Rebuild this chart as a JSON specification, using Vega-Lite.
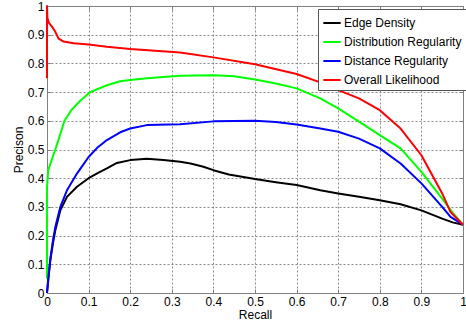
{
  "$schema": "https://vega.github.io/schema/vega-lite/v6.json",
  "width": 416,
  "height": 287,
  "autosize": {"type": "none"},
  "padding": {"left": 47, "top": 6, "right": 3, "bottom": 30},
  "background": "white",
  "config": {
    "view": {"stroke": "#808080", "strokeWidth": 1},
    "font": "Liberation Sans",
    "axis": {
      "labelFont": "Liberation Sans",
      "labelFontSize": 12,
      "labelColor": "#000000",
      "titleFont": "Liberation Sans",
      "titleFontSize": 12,
      "titleFontWeight": "normal",
      "titleColor": "#000000",
      "domainColor": "#808080",
      "tickColor": "#808080",
      "gridColor": "#808080",
      "gridDash": [2, 2],
      "gridOpacity": 0.9
    }
  },
  "datasets": {
    "pr": [
      {"s": "Edge Density", "i": 0, "r": 0, "p": 0},
      {"s": "Edge Density", "i": 1, "r": 0.004, "p": 0.06},
      {"s": "Edge Density", "i": 2, "r": 0.008, "p": 0.114},
      {"s": "Edge Density", "i": 3, "r": 0.014, "p": 0.17},
      {"s": "Edge Density", "i": 4, "r": 0.02, "p": 0.219},
      {"s": "Edge Density", "i": 5, "r": 0.032, "p": 0.288},
      {"s": "Edge Density", "i": 6, "r": 0.048, "p": 0.335},
      {"s": "Edge Density", "i": 7, "r": 0.072, "p": 0.37},
      {"s": "Edge Density", "i": 8, "r": 0.1, "p": 0.4},
      {"s": "Edge Density", "i": 9, "r": 0.125, "p": 0.42},
      {"s": "Edge Density", "i": 10, "r": 0.144, "p": 0.434},
      {"s": "Edge Density", "i": 11, "r": 0.168, "p": 0.453},
      {"s": "Edge Density", "i": 12, "r": 0.2, "p": 0.463},
      {"s": "Edge Density", "i": 13, "r": 0.24, "p": 0.468},
      {"s": "Edge Density", "i": 14, "r": 0.28, "p": 0.463},
      {"s": "Edge Density", "i": 15, "r": 0.32, "p": 0.457},
      {"s": "Edge Density", "i": 16, "r": 0.345, "p": 0.451},
      {"s": "Edge Density", "i": 17, "r": 0.376, "p": 0.44},
      {"s": "Edge Density", "i": 18, "r": 0.4, "p": 0.428},
      {"s": "Edge Density", "i": 19, "r": 0.437, "p": 0.413},
      {"s": "Edge Density", "i": 20, "r": 0.5, "p": 0.397},
      {"s": "Edge Density", "i": 21, "r": 0.55, "p": 0.386},
      {"s": "Edge Density", "i": 22, "r": 0.6, "p": 0.376},
      {"s": "Edge Density", "i": 23, "r": 0.657, "p": 0.358},
      {"s": "Edge Density", "i": 24, "r": 0.7, "p": 0.347},
      {"s": "Edge Density", "i": 25, "r": 0.75, "p": 0.335},
      {"s": "Edge Density", "i": 26, "r": 0.8, "p": 0.323},
      {"s": "Edge Density", "i": 27, "r": 0.85, "p": 0.309},
      {"s": "Edge Density", "i": 28, "r": 0.9, "p": 0.288},
      {"s": "Edge Density", "i": 29, "r": 0.95, "p": 0.259},
      {"s": "Edge Density", "i": 30, "r": 0.975, "p": 0.246},
      {"s": "Edge Density", "i": 31, "r": 1, "p": 0.238},

      {"s": "Distribution Regularity", "i": 0, "r": 0, "p": 0.05},
      {"s": "Distribution Regularity", "i": 1, "r": 0, "p": 0.37},
      {"s": "Distribution Regularity", "i": 2, "r": 0.003, "p": 0.428},
      {"s": "Distribution Regularity", "i": 3, "r": 0.008, "p": 0.45},
      {"s": "Distribution Regularity", "i": 4, "r": 0.02, "p": 0.5},
      {"s": "Distribution Regularity", "i": 5, "r": 0.03, "p": 0.545},
      {"s": "Distribution Regularity", "i": 6, "r": 0.042, "p": 0.6},
      {"s": "Distribution Regularity", "i": 7, "r": 0.06, "p": 0.64},
      {"s": "Distribution Regularity", "i": 8, "r": 0.08, "p": 0.67},
      {"s": "Distribution Regularity", "i": 9, "r": 0.104, "p": 0.7},
      {"s": "Distribution Regularity", "i": 10, "r": 0.144, "p": 0.724},
      {"s": "Distribution Regularity", "i": 11, "r": 0.176, "p": 0.738},
      {"s": "Distribution Regularity", "i": 12, "r": 0.2, "p": 0.742},
      {"s": "Distribution Regularity", "i": 13, "r": 0.24, "p": 0.748},
      {"s": "Distribution Regularity", "i": 14, "r": 0.32, "p": 0.757},
      {"s": "Distribution Regularity", "i": 15, "r": 0.4, "p": 0.759},
      {"s": "Distribution Regularity", "i": 16, "r": 0.45, "p": 0.755},
      {"s": "Distribution Regularity", "i": 17, "r": 0.5, "p": 0.744},
      {"s": "Distribution Regularity", "i": 18, "r": 0.55, "p": 0.73},
      {"s": "Distribution Regularity", "i": 19, "r": 0.6, "p": 0.713},
      {"s": "Distribution Regularity", "i": 20, "r": 0.657, "p": 0.678},
      {"s": "Distribution Regularity", "i": 21, "r": 0.7, "p": 0.643},
      {"s": "Distribution Regularity", "i": 22, "r": 0.75, "p": 0.597},
      {"s": "Distribution Regularity", "i": 23, "r": 0.8, "p": 0.55},
      {"s": "Distribution Regularity", "i": 24, "r": 0.85, "p": 0.504},
      {"s": "Distribution Regularity", "i": 25, "r": 0.9, "p": 0.422},
      {"s": "Distribution Regularity", "i": 26, "r": 0.95, "p": 0.329},
      {"s": "Distribution Regularity", "i": 27, "r": 0.975, "p": 0.28},
      {"s": "Distribution Regularity", "i": 28, "r": 1, "p": 0.238},

      {"s": "Distance Regularity", "i": 0, "r": 0, "p": 0},
      {"s": "Distance Regularity", "i": 1, "r": 0.004, "p": 0.065},
      {"s": "Distance Regularity", "i": 2, "r": 0.008, "p": 0.12},
      {"s": "Distance Regularity", "i": 3, "r": 0.014, "p": 0.18},
      {"s": "Distance Regularity", "i": 4, "r": 0.02, "p": 0.23},
      {"s": "Distance Regularity", "i": 5, "r": 0.032, "p": 0.3},
      {"s": "Distance Regularity", "i": 6, "r": 0.048, "p": 0.358},
      {"s": "Distance Regularity", "i": 7, "r": 0.072, "p": 0.416},
      {"s": "Distance Regularity", "i": 8, "r": 0.1, "p": 0.474},
      {"s": "Distance Regularity", "i": 9, "r": 0.12, "p": 0.505},
      {"s": "Distance Regularity", "i": 10, "r": 0.144, "p": 0.533},
      {"s": "Distance Regularity", "i": 11, "r": 0.176, "p": 0.56},
      {"s": "Distance Regularity", "i": 12, "r": 0.2, "p": 0.573},
      {"s": "Distance Regularity", "i": 13, "r": 0.24, "p": 0.585},
      {"s": "Distance Regularity", "i": 14, "r": 0.32, "p": 0.588},
      {"s": "Distance Regularity", "i": 15, "r": 0.4, "p": 0.598},
      {"s": "Distance Regularity", "i": 16, "r": 0.5, "p": 0.6},
      {"s": "Distance Regularity", "i": 17, "r": 0.55, "p": 0.596},
      {"s": "Distance Regularity", "i": 18, "r": 0.6, "p": 0.587},
      {"s": "Distance Regularity", "i": 19, "r": 0.657, "p": 0.573},
      {"s": "Distance Regularity", "i": 20, "r": 0.7, "p": 0.562},
      {"s": "Distance Regularity", "i": 21, "r": 0.75, "p": 0.538},
      {"s": "Distance Regularity", "i": 22, "r": 0.8, "p": 0.504},
      {"s": "Distance Regularity", "i": 23, "r": 0.85, "p": 0.451},
      {"s": "Distance Regularity", "i": 24, "r": 0.9, "p": 0.382},
      {"s": "Distance Regularity", "i": 25, "r": 0.95, "p": 0.3},
      {"s": "Distance Regularity", "i": 26, "r": 0.97, "p": 0.265},
      {"s": "Distance Regularity", "i": 27, "r": 1, "p": 0.238},

      {"s": "Overall Likelihood", "i": 0, "r": 0, "p": 0.748},
      {"s": "Overall Likelihood", "i": 1, "r": 0, "p": 1.0},
      {"s": "Overall Likelihood", "i": 2, "r": 0.001, "p": 0.958},
      {"s": "Overall Likelihood", "i": 3, "r": 0.005, "p": 0.94},
      {"s": "Overall Likelihood", "i": 4, "r": 0.012, "p": 0.928},
      {"s": "Overall Likelihood", "i": 5, "r": 0.02, "p": 0.91},
      {"s": "Overall Likelihood", "i": 6, "r": 0.028, "p": 0.886},
      {"s": "Overall Likelihood", "i": 7, "r": 0.04, "p": 0.876},
      {"s": "Overall Likelihood", "i": 8, "r": 0.064, "p": 0.87},
      {"s": "Overall Likelihood", "i": 9, "r": 0.1, "p": 0.866},
      {"s": "Overall Likelihood", "i": 10, "r": 0.144, "p": 0.858},
      {"s": "Overall Likelihood", "i": 11, "r": 0.2, "p": 0.85},
      {"s": "Overall Likelihood", "i": 12, "r": 0.32, "p": 0.838},
      {"s": "Overall Likelihood", "i": 13, "r": 0.4, "p": 0.821},
      {"s": "Overall Likelihood", "i": 14, "r": 0.5, "p": 0.797},
      {"s": "Overall Likelihood", "i": 15, "r": 0.6, "p": 0.763},
      {"s": "Overall Likelihood", "i": 16, "r": 0.657, "p": 0.734},
      {"s": "Overall Likelihood", "i": 17, "r": 0.7, "p": 0.707},
      {"s": "Overall Likelihood", "i": 18, "r": 0.75, "p": 0.678},
      {"s": "Overall Likelihood", "i": 19, "r": 0.8, "p": 0.637},
      {"s": "Overall Likelihood", "i": 20, "r": 0.85, "p": 0.573},
      {"s": "Overall Likelihood", "i": 21, "r": 0.9, "p": 0.48},
      {"s": "Overall Likelihood", "i": 22, "r": 0.95, "p": 0.347},
      {"s": "Overall Likelihood", "i": 23, "r": 0.97, "p": 0.282},
      {"s": "Overall Likelihood", "i": 24, "r": 1, "p": 0.238}
    ]
  },
  "data": {"name": "pr"},
  "layer": [
    {
      "mark": {"type": "line", "strokeWidth": 2, "clip": false, "interpolate": "linear", "strokeJoin": "round"},
      "encoding": {
        "x": {
          "field": "r", "type": "quantitative",
          "scale": {"domain": [0, 1], "nice": false, "zero": false},
          "axis": {"title": "Recall", "values": [0, 0.1, 0.2, 0.3, 0.4, 0.5, 0.6, 0.7, 0.8, 0.9, 1], "format": "~g", "tickSize": -4, "labelPadding": 7, "titlePadding": 2, "labelFlush": false, "labelOverlap": false}
        },
        "y": {
          "field": "p", "type": "quantitative",
          "scale": {"domain": [0, 1], "nice": false, "zero": false},
          "axis": {"title": "Precison", "values": [0, 0.1, 0.2, 0.3, 0.4, 0.5, 0.6, 0.7, 0.8, 0.9, 1], "format": "~g", "tickSize": -4, "labelPadding": 7, "titlePadding": 2, "labelFlush": false, "labelOverlap": false}
        },
        "order": {"field": "i", "type": "quantitative"},
        "color": {
          "field": "s", "type": "nominal",
          "scale": {
            "domain": ["Edge Density", "Distribution Regularity", "Distance Regularity", "Overall Likelihood"],
            "range": ["#000000", "#00ff00", "#0000ff", "#ff0000"]
          },
          "legend": {
            "title": null,
            "orient": "none",
            "legendX": 271,
            "legendY": 3,
            "fillColor": "white",
            "strokeColor": "#555555",
            "padding": 4,
            "labelFont": "Liberation Sans",
            "labelFontSize": 12,
            "labelColor": "#000000",
            "labelLimit": 300,
            "labelOffset": 2,
            "symbolType": "stroke",
            "symbolSize": 300,
            "symbolStrokeWidth": 2,
            "rowPadding": 3
          }
        }
      }
    },
    {
      "mark": {"type": "line", "opacity": 0},
      "encoding": {
        "x": {
          "field": "r", "type": "quantitative",
          "axis": {"orient": "top", "title": null, "labels": false, "grid": false, "domain": false, "tickSize": -4, "values": [0, 0.1, 0.2, 0.3, 0.4, 0.5, 0.6, 0.7, 0.8, 0.9, 1]}
        },
        "y": {
          "field": "p", "type": "quantitative",
          "axis": {"orient": "right", "title": null, "labels": false, "grid": false, "domain": false, "tickSize": -4, "values": [0, 0.1, 0.2, 0.3, 0.4, 0.5, 0.6, 0.7, 0.8, 0.9, 1]}
        },
        "detail": {"field": "s"}
      }
    }
  ],
  "resolve": {"axis": {"x": "independent", "y": "independent"}}
}
